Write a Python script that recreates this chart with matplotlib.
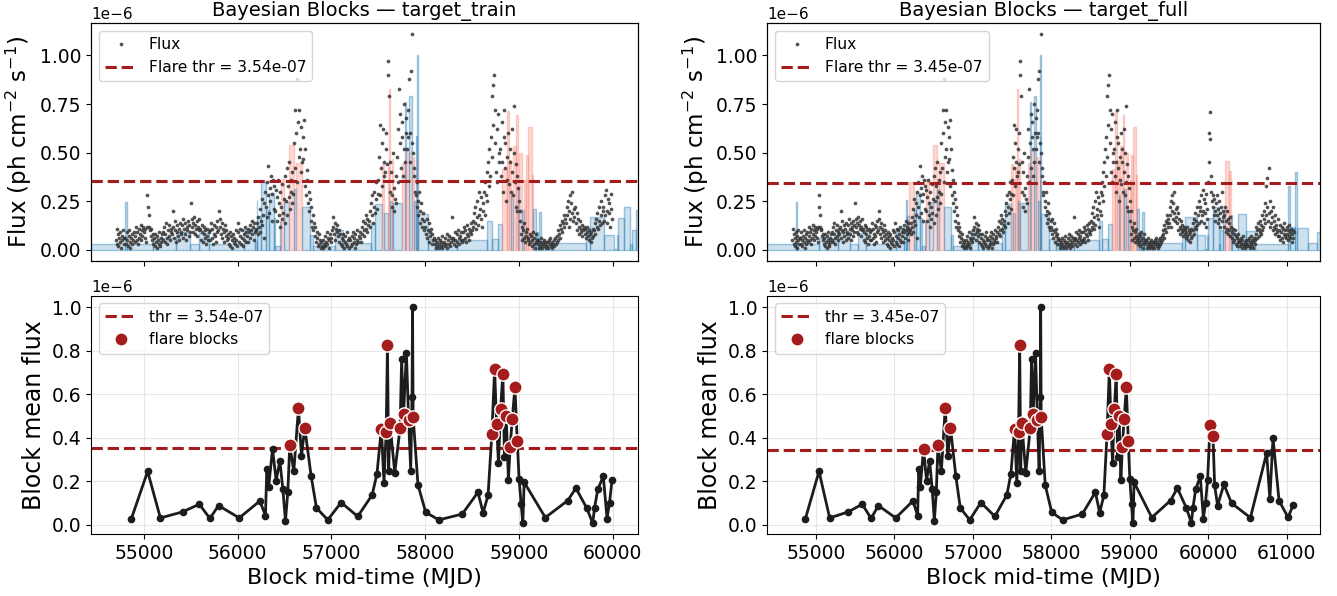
import numpy as np
import matplotlib
matplotlib.use("Agg")
import matplotlib.pyplot as plt

# ---------------- data ----------------
# weekly light curve, chunks of 100 days, values in units of 1e-8 ph cm^-2 s^-1
CHUNK_START = [54700, 54800, 54900, 55000, 55100, 55200, 55300, 55400, 55500, 55600,
               55700, 55800, 55900, 56000, 56100, 56200, 56300, 56400, 56500, 56600,
               56700, 56800, 56900, 57000, 57100, 57200, 57300, 57400, 57500, 57600,
               57700, 57800, 57900, 58000, 58100, 58200, 58300, 58400, 58500, 58600,
               58700, 58800, 58900, 59000, 59100, 59200, 59300, 59400, 59500, 59600,
               59700, 59800, 59900, 60000, 60100, 60200, 60300, 60400, 60500, 60600,
               60700, 60800, 60900, 61000]
CHUNK_FLUX = [
    [5, 11, 3, 8, 2, 6, 9, 4, 1, 7, 5, 10, 3, 6],
    [6, 3, 9, 5, 2, 7, 10, 4, 1, 6, 8, 3, 5, 9],
    [4, 7, 12, 5, 9, 3, 11, 6, 8, 13, 5, 10, 7, 12],
    [9, 6, 11, 4, 12, 28, 22, 18, 12, 10, 11, 7, 5, 8],
    [3, 6, 2, 8, 4, 1, 7, 5, 9, 3, 2, 6, 4, 8],
    [5, 9, 12, 4, 8, 14, 6, 3, 10, 7, 13, 5, 9, 11],
    [8, 12, 20, 6, 10, 15, 4, 9, 13, 7, 11, 5, 14, 8],
    [9, 13, 6, 16, 11, 8, 14, 5, 12, 10, 15, 7, 13, 9],
    [24, 12, 16, 9, 14, 17, 8, 13, 11, 15, 7, 12, 10, 16],
    [11, 5, 9, 13, 4, 8, 12, 6, 10, 3, 7, 11, 5, 9],
    [5, 10, 14, 6, 11, 3, 8, 13, 7, 12, 4, 9, 15, 10],
    [20, 16, 12, 8, 14, 6, 11, 9, 4, 13, 7, 10, 5, 8],
    [6, 3, 9, 2, 7, 5, 1, 8, 4, 6, 3, 10, 5, 2],
    [9, 14, 4, 7, 11, 3, 6, 10, 2, 8, 5, 12, 4, 9],
    [7, 11, 4, 9, 13, 6, 10, 15, 8, 12, 5, 14, 9, 11],
    [10, 14, 8, 17, 12, 21, 9, 15, 26, 13, 18, 24, 6, 30],
    [22, 35, 17, 28, 43, 19, 32, 25, 38, 15, 29, 36, 21, 33],
    [20, 31, 15, 27, 36, 18, 24, 12, 30, 22, 16, 34, 19, 26],
    [14, 38, 25, 42, 18, 33, 27, 45, 21, 36, 30, 24, 40, 29],
    [55, 42, 72, 60, 88, 35, 66, 48, 72, 52, 40, 63, 45, 58],
    [47, 67, 33, 52, 28, 41, 36, 24, 30, 20, 26, 15, 22, 12],
    [18, 10, 14, 7, 12, 4, 9, 6, 2, 8, 3, 5, 1, 4],
    [2, 5, 1, 3, 7, 2, 4, 9, 3, 6, 1, 5, 8, 4],
    [6, 10, 17, 12, 8, 14, 5, 11, 9, 13, 7, 10, 4, 8],
    [3, 6, 2, 8, 5, 1, 4, 7, 3, 9, 2, 5, 6, 1],
    [5, 2, 7, 3, 9, 4, 6, 1, 8, 3, 5, 10, 4, 7],
    [6, 9, 4, 12, 8, 15, 10, 7, 14, 18, 11, 16, 9, 13],
    [15, 20, 12, 24, 18, 28, 14, 22, 30, 19, 26, 35, 21, 29],
    [36, 48, 28, 64, 42, 55, 33, 62, 45, 38, 40, 52, 60, 44],
    [97, 90, 79, 45, 30, 40, 22, 28, 50, 32, 20, 26, 38, 24],
    [48, 62, 35, 83, 55, 70, 42, 58, 66, 38, 52, 75, 45, 60],
    [68, 52, 72, 58, 88, 60, 45, 92, 55, 111, 50, 38, 42, 30],
    [28, 35, 22, 25, 18, 30, 20, 14, 24, 16, 12, 19, 10, 15],
    [12, 8, 16, 6, 10, 14, 4, 9, 7, 11, 3, 8, 5, 6],
    [3, 5, 1, 4, 2, 6, 3, 1, 5, 2, 4, 7, 1, 3],
    [4, 2, 6, 3, 8, 1, 5, 3, 7, 2, 4, 6, 17, 5],
    [6, 3, 9, 5, 2, 8, 4, 10, 6, 3, 7, 5, 9, 4],
    [5, 9, 12, 6, 10, 4, 8, 13, 7, 11, 5, 9, 14, 8],
    [10, 15, 12, 19, 14, 22, 11, 17, 25, 13, 30, 18, 21, 27],
    [16, 12, 24, 20, 30, 18, 35, 28, 40, 25, 45, 33, 52, 38],
    [58, 48, 79, 64, 85, 90, 72, 55, 40, 62, 35, 70, 50, 45],
    [52, 38, 66, 45, 30, 58, 72, 42, 55, 25, 48, 36, 60, 34],
    [45, 52, 30, 40, 62, 28, 50, 74, 35, 44, 22, 38, 20, 32],
    [25, 15, 20, 8, 12, 5, 10, 6, 14, 4, 9, 7, 11, 5],
    [6, 3, 8, 4, 7, 2, 5, 9, 3, 6, 1, 4, 8, 5],
    [3, 5, 1, 4, 2, 6, 3, 1, 4, 2, 5, 3, 1, 4],
    [2, 4, 1, 5, 3, 6, 2, 4, 1, 3, 5, 2, 6, 3],
    [4, 7, 5, 10, 8, 13, 6, 11, 15, 9, 14, 18, 12, 16],
    [14, 22, 18, 25, 12, 20, 28, 16, 24, 19, 30, 15, 21, 17],
    [22, 14, 19, 10, 16, 12, 8, 15, 11, 9, 13, 7, 10, 12],
    [8, 11, 6, 9, 12, 7, 5, 10, 8, 4, 9, 6, 11, 7],
    [10, 14, 8, 16, 12, 19, 11, 15, 22, 13, 18, 25, 14, 20],
    [22, 15, 28, 18, 31, 20, 14, 26, 19, 24, 12, 29, 21, 16],
    [35, 45, 60, 71, 57, 30, 38, 25, 22, 28, 18, 26, 20, 15],
    [24, 18, 28, 14, 21, 16, 25, 12, 19, 22, 15, 30, 17, 20],
    [18, 12, 22, 9, 15, 20, 11, 16, 8, 14, 10, 17, 7, 12],
    [9, 6, 11, 4, 8, 5, 10, 3, 7, 6, 2, 8, 4, 5],
    [4, 2, 6, 3, 1, 5, 3, 7, 2, 4, 1, 3, 5, 2],
    [3, 5, 2, 6, 1, 4, 3, 7, 2, 5, 4, 1, 6, 3],
    [5, 8, 12, 6, 10, 14, 7, 11, 9, 15, 8, 13, 18, 10],
    [12, 16, 20, 14, 24, 33, 18, 37, 22, 15, 42, 19, 12, 25],
    [20, 14, 17, 10, 22, 12, 15, 8, 18, 11, 13, 9, 16, 7],
    [10, 7, 13, 5, 9, 12, 6, 11, 4, 8, 14, 7, 10, 6],
    [8, 12, 5, 10, 7, 13, 6, 9, 11, 4, 8, 10, 6, 9],
]
SAMPLE_DAYS = 7

# Bayesian block edges (MJD) for the full light curve
BLOCK_EDGES = [54700, 55032, 55046, 55304, 55520, 55660, 55746, 55846, 56186, 56286,
               56306, 56314, 56346, 56396, 56424, 56474, 56488, 56530, 56538, 56572,
               56624, 56672, 56688, 56742, 56824, 56856, 57064, 57142, 57418, 57450,
               57520, 57544, 57576, 57590, 57604, 57616, 57630, 57720, 57744, 57752,
               57786, 57812, 57834, 57856, 57862, 57867, 57875, 57970, 58040, 58250,
               58540, 58584, 58650, 58690, 58730, 58750, 58772, 58790, 58818, 58838,
               58852, 58876, 58898, 58914, 58942, 58972, 58990, 59012, 59034, 59048,
               59062, 59500, 59540, 59674, 59772, 59800, 59812, 59868, 59930, 59948,
               59984, 60000, 60048, 60074, 60090, 60150, 60250, 60346, 60730, 60760,
               60812, 60840, 60966, 61068, 61105]
# block mean flux (1e-6 ph cm^-2 s^-1)
BLOCK_MEAN = [0.028, 0.245, 0.031, 0.059, 0.094, 0.029, 0.088, 0.031, 0.109, 0.042,
              0.257, 0.172, 0.349, 0.203, 0.295, 0.165, 0.018, 0.149, 0.365, 0.245,
              0.537, 0.315, 0.446, 0.223, 0.077, 0.022, 0.102, 0.038, 0.137, 0.234,
              0.442, 0.192, 0.426, 0.828, 0.249, 0.468, 0.239, 0.446, 0.760, 0.508,
              0.791, 0.480, 0.249, 0.585, 1.003, 0.495, 0.183, 0.057, 0.022, 0.049,
              0.149, 0.055, 0.135, 0.415, 0.714, 0.463, 0.283, 0.534, 0.694, 0.311,
              0.500, 0.206, 0.357, 0.488, 0.631, 0.386, 0.211, 0.094, 0.008, 0.195,
              0.033, 0.111, 0.168, 0.076, 0.007, 0.078, 0.162, 0.223, 0.028, 0.102,
              0.204,
              0.458, 0.407, 0.181, 0.088, 0.185, 0.099, 0.032, 0.329, 0.117, 0.399,
              0.111, 0.034, 0.092]
# indices (0-based) of blocks flagged as flares
FLARE_IDX_TRAIN = [18, 20, 22, 30, 32, 33, 35, 37, 39, 41, 45, 53, 54, 55, 57, 58,
                   60, 62, 63, 64, 65]
FLARE_IDX_FULL = [12] + FLARE_IDX_TRAIN + [81, 82]
N_TRAIN_BLOCKS = 81
THR = {"target_train": 3.54e-07, "target_full": 3.45e-07}

# ---------------- build series ----------------
t_all = np.concatenate([s + SAMPLE_DAYS * np.arange(len(v)) for s, v in zip(CHUNK_START, CHUNK_FLUX)])
f_all = np.concatenate([np.array(v, float) for v in CHUNK_FLUX]) * 1e-8
edges_all = np.array(BLOCK_EDGES, float)
mean_all = np.array(BLOCK_MEAN) * 1e-6

datasets = {
    "target_train": dict(mask=t_all < 60000, nb=N_TRAIN_BLOCKS, flare=FLARE_IDX_TRAIN),
    "target_full": dict(mask=np.ones_like(t_all, bool), nb=len(BLOCK_MEAN), flare=FLARE_IDX_FULL),
}

# ---------------- figure ----------------
W, H = 1337, 596
fig = plt.figure(figsize=(W / 100, H / 100), dpi=100)
plt.rcParams["font.family"] = ["DejaVu Sans"]

RED = "#a51c1c"
cols = [(91 / W, (637.3 - 90.7) / W), (767.3 / W, (1320 - 767.3) / W)]
top_row = (1 - 260.7 / H, (260.7 - 23.3) / H)
bot_row = (1 - 534 / H, (534 - 295.7) / H)

for (name, d), (cl, cw) in zip(datasets.items(), cols):
    thr = THR[name]
    t = t_all[d["mask"]]
    f = f_all[d["mask"]]
    nb = d["nb"]
    edges = edges_all[: nb + 1]
    means = mean_all[:nb]
    mids = 0.5 * (edges[:-1] + edges[1:])
    is_flare = np.zeros(nb, bool)
    is_flare[d["flare"]] = True

    ax1 = fig.add_axes([cl, top_row[0], cw, top_row[1]])
    ax2 = fig.add_axes([cl, bot_row[0], cw, bot_row[1]], sharex=ax1)

    # blocks drawn on a twin x axis spanning the block edges tightly
    axb = ax1.twiny()
    colors_face = [("salmon", 0.3) if fl else ("tab:blue", 0.22) for fl in is_flare]
    colors_edge = [("salmon", 0.35) if fl else ("tab:blue", 0.4) for fl in is_flare]
    axb.bar(edges[:-1], means, width=np.diff(edges), align="edge",
            color=colors_face, edgecolor=colors_edge, linewidth=1.0)
    axb.set_xlim(edges[0], edges[-1])
    axb.xaxis.set_visible(False)
    ax1.set_zorder(axb.get_zorder() + 1)
    ax1.patch.set_visible(False)

    ax1.plot(t, f, ".", color="#333333", ms=3.4, alpha=0.75, label="Flux")
    ax1.axhline(thr, color=RED, ls="--", lw=2.2, label=f"Flare thr = {thr:.2e}")
    span = edges[-1] - edges[0]
    ax1.set_xlim(edges[0] - 0.05 * span, edges[-1] + 0.05 * span)
    fmax = f.max()
    ax1.set_ylim(-0.05 * fmax, 1.05 * fmax)
    ax1.set_title(f"Bayesian Blocks \u2014 {name}", fontsize=14, pad=5)
    ax1.set_ylabel(r"Flux (ph cm$^{-2}$ s$^{-1}$)", fontsize=16.5)
    ax1.tick_params(labelbottom=False, labelsize=13.5)
    ax1.yaxis.get_offset_text().set_fontsize(11)
    ax1.legend(loc="upper left", fontsize=11.2, framealpha=0.8)

    # bottom: block means
    ax2.plot(mids, means, "-o", color="#1c1c1c", lw=2.0, ms=4.5, zorder=3)
    ax2.axhline(thr, color=RED, ls="--", lw=2.2, label=f"thr = {thr:.2e}", zorder=2)
    ax2.plot(mids[is_flare], means[is_flare], "o", color=RED, ms=9.5,
             mec="white", mew=1.0, ls="none", label="flare blocks", zorder=4)
    ax2.grid(True, color="#e6e6e6", lw=0.8)
    ax2.set_axisbelow(True)
    ax2.set_ylabel("Block mean flux", fontsize=17)
    ax2.set_xlabel("Block mid-time (MJD)", fontsize=16)
    ax2.tick_params(labelsize=13.5)
    ax2.yaxis.get_offset_text().set_fontsize(11)
    ax2.legend(loc="upper left", fontsize=11.2, framealpha=0.8)

fig.savefig("out.png", dpi=100)
